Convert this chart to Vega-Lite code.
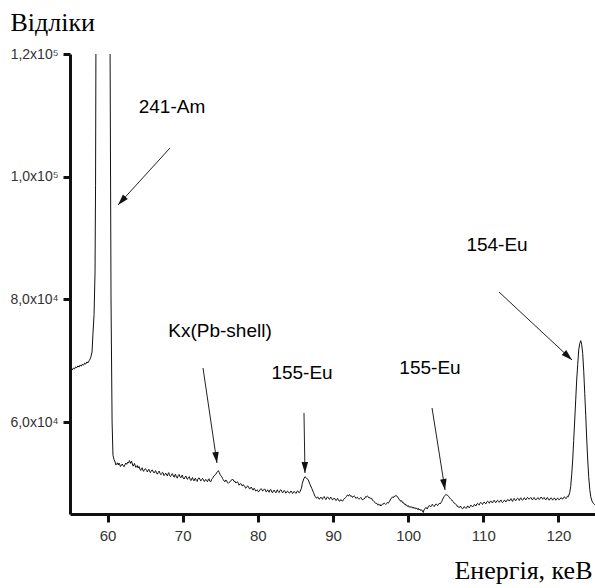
{
  "$schema": "https://vega.github.io/schema/vega-lite/v6.json",
  "width": 526,
  "height": 460,
  "autosize": {"type": "none"},
  "padding": {"left": 70, "top": 54, "right": 0, "bottom": 74},
  "background": "white",
  "config": {"view": {"stroke": null}},
  "datasets": {
    "spectrum": [
      {"E":55.0,"N":68480},{"E":55.15,"N":68700},{"E":55.3,"N":68500},{"E":55.45,"N":68800},{"E":55.6,"N":68650},{"E":55.75,"N":69000},{"E":55.9,"N":68850},{"E":56.05,"N":69150},{"E":56.2,"N":68950},{"E":56.35,"N":69300},{"E":56.5,"N":69100},{"E":56.65,"N":69450},{"E":56.8,"N":69250},{"E":56.95,"N":69600},{"E":57.1,"N":69450},{"E":57.25,"N":69800},{"E":57.4,"N":69650},{"E":57.55,"N":70000},{"E":57.7,"N":70300},{"E":57.8,"N":70700},
      {"E":57.93,"N":71400},{"E":58.06,"N":74500},{"E":58.2,"N":77500},{"E":58.33,"N":84300},{"E":58.4,"N":98600},{"E":58.46,"N":125000},{"E":58.9,"N":900000},{"E":59.4,"N":1500000},{"E":60.0,"N":900000},{"E":60.32,"N":125000},{"E":60.46,"N":79900},{"E":60.6,"N":60000},{"E":60.72,"N":54600},{"E":60.85,"N":53900},
      {"E":61.0,"N":53480},{"E":61.1,"N":53000},{"E":61.2,"N":53100},{"E":61.32,"N":53350},{"E":61.43,"N":52990},{"E":61.52,"N":53300},{"E":61.6,"N":53150},{"E":61.7,"N":52750},{"E":61.8,"N":52850},{"E":61.95,"N":53150},{"E":62.09,"N":52830},{"E":62.2,"N":52700},{"E":62.3,"N":53000},{"E":62.42,"N":53300},{"E":62.55,"N":53100},{"E":62.68,"N":53450},{"E":62.8,"N":53300},{"E":62.9,"N":53700},{"E":63.0,"N":53500},{"E":63.06,"N":53250},{"E":63.12,"N":53430},{"E":63.2,"N":53600},{"E":63.3,"N":53150},{"E":63.4,"N":52800},{"E":63.5,"N":53000},{"E":63.58,"N":53250},{"E":63.65,"N":52990},{"E":63.75,"N":52600},{"E":63.85,"N":52700},{"E":63.95,"N":52900},{"E":64.05,"N":52500},{"E":64.18,"N":52750},{"E":64.32,"N":52290},{"E":64.41,"N":52100},{"E":64.5,"N":52400},{"E":64.6,"N":52550},{"E":64.7,"N":52150},{"E":64.8,"N":51950},{"E":64.9,"N":52250},{"E":65.05,"N":52400},{"E":65.21,"N":52060},{"E":65.3,"N":51850},{"E":65.4,"N":52150},{"E":65.5,"N":52300},{"E":65.6,"N":51900},{"E":65.7,"N":51750},{"E":65.8,"N":52000},{"E":65.95,"N":52200},{"E":66.09,"N":51850},{"E":66.2,"N":51700},{"E":66.3,"N":51950},{"E":66.4,"N":52050},{"E":66.5,"N":51700},{"E":66.62,"N":51500},{"E":66.75,"N":51800},{"E":66.86,"N":52000},{"E":66.98,"N":51640},{"E":67.09,"N":51400},{"E":67.2,"N":51550},{"E":67.3,"N":51800},{"E":67.4,"N":51700},{"E":67.5,"N":51250},{"E":67.6,"N":51400},{"E":67.74,"N":51650},{"E":67.87,"N":51360},{"E":67.96,"N":51200},{"E":68.05,"N":51550},{"E":68.15,"N":51750},{"E":68.25,"N":51250},{"E":68.38,"N":51100},{"E":68.5,"N":51400},{"E":68.62,"N":51600},{"E":68.75,"N":51200},{"E":68.85,"N":51000},{"E":68.95,"N":51350},{"E":69.05,"N":51500},{"E":69.15,"N":51000},{"E":69.28,"N":50850},{"E":69.4,"N":51250},{"E":69.52,"N":51450},{"E":69.64,"N":51080},{"E":69.75,"N":50900},{"E":69.85,"N":51200},{"E":69.95,"N":51350},{"E":70.05,"N":50900},{"E":70.18,"N":50700},{"E":70.3,"N":51000},{"E":70.42,"N":51200},{"E":70.53,"N":50820},{"E":70.64,"N":50650},{"E":70.75,"N":50950},{"E":70.88,"N":51100},{"E":71.0,"N":50600},{"E":71.1,"N":50450},{"E":71.2,"N":50750},{"E":71.3,"N":50950},{"E":71.41,"N":50550},{"E":71.5,"N":50400},{"E":71.6,"N":50700},{"E":71.7,"N":50850},{"E":71.8,"N":50450},{"E":71.92,"N":50300},{"E":72.05,"N":50750},{"E":72.18,"N":50900},{"E":72.3,"N":50660},{"E":72.4,"N":50400},{"E":72.5,"N":50500},{"E":72.62,"N":50800},{"E":72.75,"N":50650},{"E":72.85,"N":50300},{"E":72.95,"N":50400},{"E":73.07,"N":50650},{"E":73.19,"N":50430},{"E":73.3,"N":50250},{"E":73.4,"N":50600},{"E":73.5,"N":50750},{"E":73.6,"N":50350},{"E":73.73,"N":50250},{"E":73.86,"N":50660},{"E":73.95,"N":50800},{"E":74.05,"N":51000},{"E":74.18,"N":51250},{"E":74.3,"N":51360},{"E":74.4,"N":51450},{"E":74.5,"N":51700},{"E":74.62,"N":51900},{"E":74.74,"N":52060},{"E":74.85,"N":51800},{"E":74.95,"N":51500},{"E":75.07,"N":51250},{"E":75.19,"N":51080},{"E":75.3,"N":50800},{"E":75.4,"N":50600},{"E":75.52,"N":50350},{"E":75.63,"N":50270},{"E":75.74,"N":50550},{"E":75.85,"N":50400},{"E":75.96,"N":50100},{"E":76.07,"N":50010},{"E":76.18,"N":50150},{"E":76.3,"N":50250},{"E":76.4,"N":50450},{"E":76.5,"N":50500},{"E":76.62,"N":50700},{"E":76.73,"N":50545},{"E":76.84,"N":50300},{"E":76.95,"N":50350},{"E":77.07,"N":50050},{"E":77.19,"N":50170},{"E":77.3,"N":50250},{"E":77.4,"N":50000},{"E":77.5,"N":49700},{"E":77.6,"N":49900},{"E":77.72,"N":49950},{"E":77.85,"N":49730},{"E":77.95,"N":49550},{"E":78.05,"N":49800},{"E":78.15,"N":49650},{"E":78.25,"N":49500},{"E":78.38,"N":49200},{"E":78.52,"N":49360},{"E":78.63,"N":49600},{"E":78.75,"N":49450},{"E":78.88,"N":49100},{"E":79.0,"N":49150},{"E":79.1,"N":49400},{"E":79.2,"N":49250},{"E":79.3,"N":48950},{"E":79.39,"N":48920},{"E":79.5,"N":49200},{"E":79.6,"N":49050},{"E":79.7,"N":48750},{"E":79.8,"N":48800},{"E":79.93,"N":48950},{"E":80.06,"N":48640},{"E":80.18,"N":48700},{"E":80.3,"N":48950},{"E":80.4,"N":49150},{"E":80.51,"N":49030},{"E":80.63,"N":48750},{"E":80.75,"N":48850},{"E":80.88,"N":49100},{"E":81.0,"N":48950},{"E":81.1,"N":48600},{"E":81.2,"N":48700},{"E":81.3,"N":48950},{"E":81.39,"N":48750},{"E":81.5,"N":48550},{"E":81.6,"N":48900},{"E":81.72,"N":49000},{"E":81.85,"N":48600},{"E":81.95,"N":48450},{"E":82.05,"N":48750},{"E":82.16,"N":48900},{"E":82.28,"N":48640},{"E":82.4,"N":48450},{"E":82.5,"N":48800},{"E":82.6,"N":48950},{"E":82.7,"N":48650},{"E":82.82,"N":48500},{"E":82.95,"N":48850},{"E":83.06,"N":48950},{"E":83.17,"N":48750},{"E":83.28,"N":48450},{"E":83.4,"N":48600},{"E":83.5,"N":48850},{"E":83.6,"N":48700},{"E":83.72,"N":48400},{"E":83.85,"N":48550},{"E":83.95,"N":48750},{"E":84.05,"N":48640},{"E":84.18,"N":48400},{"E":84.3,"N":48500},{"E":84.4,"N":48750},{"E":84.5,"N":48650},{"E":84.6,"N":48350},{"E":84.7,"N":48450},{"E":84.82,"N":48700},{"E":84.94,"N":48540},{"E":85.07,"N":48350},{"E":85.2,"N":48650},{"E":85.3,"N":48800},{"E":85.4,"N":48550},{"E":85.5,"N":48450},{"E":85.61,"N":48640},
      {"E":85.8,"N":49200},{"E":85.92,"N":50000},{"E":86.1,"N":50700},{"E":86.27,"N":51080},{"E":86.45,"N":50900},{"E":86.71,"N":50550},{"E":86.95,"N":49800},{"E":87.17,"N":49190},{"E":87.4,"N":48500},{"E":87.6,"N":47900},{"E":87.83,"N":47560},
      {"E":87.94,"N":47800},{"E":88.05,"N":47650},{"E":88.15,"N":47400},{"E":88.25,"N":47500},{"E":88.38,"N":47750},{"E":88.5,"N":47560},{"E":88.6,"N":47400},{"E":88.7,"N":47700},{"E":88.82,"N":47850},{"E":88.95,"N":47550},{"E":89.05,"N":47350},{"E":89.15,"N":47600},{"E":89.27,"N":47800},{"E":89.38,"N":47660},{"E":89.5,"N":47400},{"E":89.6,"N":47500},{"E":89.7,"N":47750},{"E":89.8,"N":47600},{"E":89.93,"N":47300},{"E":90.05,"N":47400},{"E":90.16,"N":47600},{"E":90.27,"N":47450},{"E":90.38,"N":47200},{"E":90.5,"N":47300},{"E":90.6,"N":47550},{"E":90.7,"N":47350},{"E":90.82,"N":47100},{"E":90.95,"N":47150},{"E":91.05,"N":47350},{"E":91.16,"N":47170},{"E":91.27,"N":47100},{"E":91.38,"N":47300},{"E":91.5,"N":47500},{"E":91.6,"N":47600},{"E":91.7,"N":47700},{"E":91.8,"N":47850},{"E":91.92,"N":48100},{"E":92.05,"N":47950},{"E":92.15,"N":48150},{"E":92.26,"N":48100},{"E":92.38,"N":47850},{"E":92.5,"N":47950},{"E":92.6,"N":47700},{"E":92.7,"N":47850},{"E":92.82,"N":47950},{"E":92.93,"N":47820},{"E":93.04,"N":47550},{"E":93.15,"N":47650},{"E":93.25,"N":47750},{"E":93.35,"N":47550},{"E":93.47,"N":47400},{"E":93.59,"N":47560},{"E":93.7,"N":47700},{"E":93.8,"N":47500},{"E":93.92,"N":47300},{"E":94.03,"N":47400},{"E":94.14,"N":47450},{"E":94.25,"N":47600},{"E":94.35,"N":47850},{"E":94.45,"N":47750},{"E":94.58,"N":47950},{"E":94.7,"N":47820},{"E":94.8,"N":47600},{"E":94.9,"N":47700},{"E":95.02,"N":47500},{"E":95.15,"N":47560},{"E":95.25,"N":47250},{"E":95.35,"N":47200},{"E":95.48,"N":47000},{"E":95.6,"N":46900},{"E":95.7,"N":46700},{"E":95.82,"N":46750},{"E":95.94,"N":46500},{"E":96.05,"N":46600},{"E":96.15,"N":46400},{"E":96.25,"N":46550},{"E":96.36,"N":46300},{"E":96.48,"N":46470},{"E":96.6,"N":46650},{"E":96.7,"N":46600},{"E":96.8,"N":46800},{"E":96.9,"N":46700},{"E":97.02,"N":46550},{"E":97.15,"N":46750},{"E":97.25,"N":46900},{"E":97.36,"N":46750},{"E":97.45,"N":46950},{"E":97.55,"N":47100},{"E":97.68,"N":47450},{"E":97.8,"N":47600},{"E":97.92,"N":47800},{"E":98.03,"N":47660},{"E":98.14,"N":47900},{"E":98.25,"N":47850},{"E":98.37,"N":48050},{"E":98.48,"N":47940},{"E":98.6,"N":47750},{"E":98.7,"N":47600},{"E":98.8,"N":47350},{"E":98.9,"N":47300},{"E":99.02,"N":47050},{"E":99.14,"N":47170},{"E":99.25,"N":46850},{"E":99.35,"N":46900},{"E":99.48,"N":46600},{"E":99.6,"N":46650},{"E":99.7,"N":46400},{"E":99.81,"N":46470},{"E":99.93,"N":46250},{"E":100.05,"N":46350},{"E":100.15,"N":46100},{"E":100.25,"N":46250},{"E":100.37,"N":46050},{"E":100.48,"N":46190},{"E":100.6,"N":45950},{"E":100.7,"N":46100},{"E":100.8,"N":45900},{"E":100.9,"N":46050},{"E":101.02,"N":45850},{"E":101.15,"N":45950},{"E":101.25,"N":45750},{"E":101.35,"N":45930},{"E":101.45,"N":45650},{"E":101.55,"N":45800},{"E":101.68,"N":45550},{"E":101.8,"N":45700},{"E":101.9,"N":45500},{"E":102.02,"N":45250},{"E":102.1,"N":45650},{"E":102.2,"N":45800},{"E":102.33,"N":46050},{"E":102.45,"N":46000},{"E":102.56,"N":45800},{"E":102.68,"N":46190},{"E":102.8,"N":46400},{"E":102.9,"N":46300},{"E":103.0,"N":46150},{"E":103.1,"N":46400},{"E":103.22,"N":46600},{"E":103.35,"N":46350},{"E":103.47,"N":46200},{"E":103.58,"N":46470},{"E":103.7,"N":46650},{"E":103.8,"N":46550},{"E":103.92,"N":46350},{"E":104.05,"N":46600},{"E":104.15,"N":46750},{"E":104.24,"N":46630},{"E":104.35,"N":46800},{"E":104.45,"N":47000},{"E":104.57,"N":47300},{"E":104.68,"N":47600},{"E":104.8,"N":47850},{"E":104.9,"N":48000},{"E":105.02,"N":48200},{"E":105.13,"N":48100},{"E":105.25,"N":48050},{"E":105.35,"N":47900},{"E":105.46,"N":47750},{"E":105.57,"N":47560},{"E":105.68,"N":47400},{"E":105.8,"N":47300},{"E":105.9,"N":47100},{"E":106.01,"N":47010},{"E":106.1,"N":46800},{"E":106.2,"N":46700},{"E":106.33,"N":46600},{"E":106.46,"N":46470},{"E":106.55,"N":46200},{"E":106.65,"N":46250},{"E":106.75,"N":46050},{"E":106.85,"N":46100},{"E":106.97,"N":46300},{"E":107.1,"N":46000},{"E":107.22,"N":45850},{"E":107.34,"N":45930},{"E":107.45,"N":46200},{"E":107.55,"N":46100},{"E":107.68,"N":45900},{"E":107.8,"N":46000},{"E":107.9,"N":46300},{"E":108.0,"N":46250},{"E":108.12,"N":46000},{"E":108.23,"N":46190},{"E":108.35,"N":46450},{"E":108.45,"N":46350},{"E":108.58,"N":46150},{"E":108.7,"N":46300},{"E":108.8,"N":46550},{"E":108.9,"N":46500},{"E":109.02,"N":46300},{"E":109.13,"N":46630},{"E":109.25,"N":46750},{"E":109.35,"N":46550},{"E":109.45,"N":46450},{"E":109.55,"N":46750},{"E":109.68,"N":46900},{"E":109.8,"N":46700},{"E":109.9,"N":46550},{"E":110.0,"N":46840},{"E":110.12,"N":46950},{"E":110.25,"N":46750},{"E":110.35,"N":46650},{"E":110.45,"N":46950},{"E":110.58,"N":47100},{"E":110.7,"N":46900},{"E":110.8,"N":46750},{"E":110.9,"N":47010},{"E":111.0,"N":47150},{"E":111.1,"N":46950},{"E":111.22,"N":46800},{"E":111.35,"N":47100},{"E":111.45,"N":47250},{"E":111.55,"N":47000},{"E":111.68,"N":46850},{"E":111.79,"N":47120},{"E":111.9,"N":47250},{"E":112.0,"N":47050},{"E":112.12,"N":46900},{"E":112.25,"N":47150},{"E":112.35,"N":47300},{"E":112.45,"N":47000},{"E":112.56,"N":46850},{"E":112.67,"N":47010},{"E":112.78,"N":47250},{"E":112.9,"N":47200},{"E":113.0,"N":46950},{"E":113.1,"N":47100},{"E":113.22,"N":47350},{"E":113.35,"N":47300},{"E":113.45,"N":47100},{"E":113.56,"N":47280},{"E":113.68,"N":47500},{"E":113.8,"N":47200},{"E":113.9,"N":47050},{"E":114.0,"N":47400},{"E":114.1,"N":47550},{"E":114.2,"N":47300},{"E":114.32,"N":47150},{"E":114.45,"N":47450},{"E":114.58,"N":47600},{"E":114.7,"N":47350},{"E":114.8,"N":47200},{"E":114.9,"N":47500},{"E":115.0,"N":47650},{"E":115.1,"N":47350},{"E":115.22,"N":47250},{"E":115.33,"N":47400},{"E":115.44,"N":47650},{"E":115.55,"N":47550},{"E":115.65,"N":47300},{"E":115.75,"N":47450},{"E":115.88,"N":47700},{"E":116.0,"N":47600},{"E":116.1,"N":47400},{"E":116.22,"N":47560},{"E":116.33,"N":47700},{"E":116.45,"N":47450},{"E":116.55,"N":47300},{"E":116.65,"N":47550},{"E":116.78,"N":47700},{"E":116.9,"N":47400},{"E":117.0,"N":47300},{"E":117.11,"N":47450},{"E":117.23,"N":47650},{"E":117.35,"N":47600},{"E":117.45,"N":47350},{"E":117.55,"N":47500},{"E":117.68,"N":47750},{"E":117.8,"N":47650},{"E":117.9,"N":47400},{"E":117.99,"N":47560},{"E":118.1,"N":47700},{"E":118.2,"N":47450},{"E":118.32,"N":47300},{"E":118.45,"N":47600},{"E":118.55,"N":47700},{"E":118.65,"N":47400},{"E":118.77,"N":47250},{"E":118.88,"N":47450},{"E":119.0,"N":47650},{"E":119.1,"N":47550},{"E":119.2,"N":47300},{"E":119.3,"N":47350},{"E":119.42,"N":47600},{"E":119.55,"N":47500},{"E":119.66,"N":47250},{"E":119.77,"N":47400},{"E":119.88,"N":47600},{"E":120.0,"N":47500},{"E":120.1,"N":47300},{"E":120.2,"N":47400},{"E":120.32,"N":47650},{"E":120.45,"N":47600},{"E":120.55,"N":47400},{"E":120.65,"N":47560},{"E":120.78,"N":47800},{"E":120.9,"N":47700},{"E":121.0,"N":47500},{"E":121.1,"N":47650},{"E":121.2,"N":47900},{"E":121.32,"N":47820},
      {"E":121.5,"N":48500},{"E":121.63,"N":49450},{"E":121.77,"N":51500},{"E":121.9,"N":53810},{"E":122.03,"N":57000},{"E":122.17,"N":60330},{"E":122.3,"N":63600},{"E":122.43,"N":66850},{"E":122.57,"N":69400},{"E":122.7,"N":71740},{"E":122.84,"N":72800},{"E":122.97,"N":73260},{"E":123.1,"N":72600},{"E":123.23,"N":71200},{"E":123.37,"N":68200},{"E":123.5,"N":64680},{"E":123.64,"N":61000},{"E":123.77,"N":57070},{"E":123.9,"N":53800},{"E":124.03,"N":51080},{"E":124.17,"N":49000},{"E":124.3,"N":47820},{"E":124.47,"N":47100},{"E":124.64,"N":46750},{"E":124.8,"N":46550},{"E":125.0,"N":46470}
    ],
    "labels": [
      {"text": "241-Am", "E": 68.57, "N": 110381},
      {"text": "Kx(Pb-shell)", "E": 74.96, "N": 73861},
      {"text": "155-Eu", "E": 85.88, "N": 67012},
      {"text": "155-Eu", "E": 102.91, "N": 67827},
      {"text": "154-Eu", "E": 111.83, "N": 87881}
    ],
    "arrows": [
      {"id": "Am", "E": 68.31, "N": 104674, "E2": 61.39, "N2": 95381},
      {"id": "Kx", "E": 72.70, "N": 68805, "E2": 74.56, "N2": 53317},
      {"id": "Eu155a", "E": 86.14, "N": 61469, "E2": 86.27, "N2": 51686},
      {"id": "Eu155b", "E": 103.18, "N": 62284, "E2": 104.91, "N2": 48915},
      {"id": "Eu154", "E": 112.09, "N": 81196, "E2": 121.81, "N2": 70110}
    ],
    "heads": [
      {"id": "Am", "E": 61.39, "N": 95381},
      {"id": "Kx", "E": 74.56, "N": 53317},
      {"id": "Eu155a", "E": 86.27, "N": 51686},
      {"id": "Eu155b", "E": 104.91, "N": 48915},
      {"id": "Eu154", "E": 121.81, "N": 70110}
    ],
    "xticks": [{"E": 60}, {"E": 65}, {"E": 70}, {"E": 75}, {"E": 80}, {"E": 85}, {"E": 90}, {"E": 95}, {"E": 100}, {"E": 105}, {"E": 110}, {"E": 115}, {"E": 120}],
    "yticks": [{"N": 50000}, {"N": 60000}, {"N": 70000}, {"N": 80000}, {"N": 90000}, {"N": 100000}, {"N": 110000}, {"N": 120000}]
  },
  "encoding": {
    "x": {"field": "E", "type": "quantitative",
      "scale": {"domain": [55, 125], "nice": false, "zero": false},
      "axis": {"values": [60, 70, 80, 90, 100, 110, 120], "grid": false,
        "ticks": true, "tickSize": 8, "tickWidth": 3, "tickColor": "#111",
        "domain": true, "domainWidth": 3, "domainColor": "#111",
        "labelFont": "Liberation Sans", "labelFontSize": 15, "labelColor": "#333", "labelPadding": 6,
        "title": "Енергія, кеВ", "titleFont": "Liberation Serif", "titleFontSize": 26, "titleFontWeight": "normal",
        "titleColor": "#000", "titleAlign": "right", "titleAnchor": null, "titleX": 522, "titleY": 64, "titleBaseline": "alphabetic"}},
    "y": {"field": "N", "type": "quantitative",
      "scale": {"domain": [45000, 120000], "nice": false, "zero": false},
      "axis": {"values": [60000, 80000, 100000, 120000], "grid": false,
        "ticks": true, "tickSize": 7, "tickWidth": 3, "tickColor": "#111",
        "domain": true, "domainWidth": 3, "domainColor": "#111",
        "labelFont": "Liberation Sans", "labelFontSize": 14, "labelColor": "#333", "labelPadding": 5,
        "labelExpr": "datum.value == 120000 ? '1,2x10⁵' : datum.value == 100000 ? '1,0x10⁵' : datum.value == 80000 ? '8,0x10⁴' : '6,0x10⁴'",
        "title": "Відліки", "titleFont": "Liberation Serif", "titleFontSize": 26, "titleFontWeight": "normal",
        "titleColor": "#000", "titleAngle": 0, "titleAlign": "left", "titleAnchor": null, "titleX": -60, "titleY": -24, "titleBaseline": "alphabetic"}}
  },
  "layer": [
    {
      "data": {"name": "spectrum"},
      "mark": {"type": "line", "color": "#111111", "strokeWidth": 1, "clip": true, "interpolate": "linear"}
    },
    {
      "data": {"name": "xticks"},
      "transform": [{"filter": "datum.E % 10 === 0"}],
      "mark": {"type": "rule", "color": "#111", "strokeWidth": 3, "y2Offset": 8},
      "encoding": {"y": {"datum": 45000}, "y2": {"datum": 45000}}
    },
    {
      "data": {"name": "xticks"},
      "transform": [{"filter": "datum.E % 10 !== 0"}],
      "mark": {"type": "rule", "color": "#111", "strokeWidth": 3, "y2Offset": 4},
      "encoding": {"y": {"datum": 45000}, "y2": {"datum": 45000}}
    },
    {
      "data": {"name": "yticks"},
      "transform": [{"filter": "datum.N % 20000 === 0"}],
      "mark": {"type": "rule", "color": "#111", "strokeWidth": 3, "x2Offset": -7},
      "encoding": {"x": {"datum": 55}, "x2": {"datum": 55}}
    },
    {
      "data": {"name": "yticks"},
      "transform": [{"filter": "datum.N % 20000 !== 0"}],
      "mark": {"type": "rule", "color": "#111", "strokeWidth": 3, "x2Offset": -4},
      "encoding": {"x": {"datum": 55}, "x2": {"datum": 55}}
    },
    {
      "data": {"values": [{}]},
      "mark": {"type": "rule", "color": "#111", "strokeWidth": 3},
      "encoding": {"x": {"datum": 55}, "x2": {"datum": 125}, "y": {"datum": 45000}}
    },
    {
      "data": {"values": [{}]},
      "mark": {"type": "rule", "color": "#111", "strokeWidth": 3},
      "encoding": {"x": {"datum": 55}, "y": {"datum": 45000}, "y2": {"datum": 120000}}
    },
    {
      "data": {"name": "arrows"},
      "mark": {"type": "rule", "color": "#222", "strokeWidth": 1},
      "encoding": {"x2": {"field": "E2"}, "y2": {"field": "N2"}}
    },
    {
      "data": {"name": "labels"},
      "mark": {"type": "text", "font": "Liberation Sans", "fontSize": 19, "color": "#000", "align": "center", "baseline": "alphabetic"},
      "encoding": {"text": {"field": "text"}}
    },
    {
      "data": {"name": "heads"},
      "transform": [{"filter": "datum.id == 'Am'"}],
      "mark": {"type": "point", "shape": "M0,0L-0.3,-1L0.3,-1Z", "size": 484, "filled": true, "color": "#111", "opacity": 1, "angle": 42}
    },
    {
      "data": {"name": "heads"},
      "transform": [{"filter": "datum.id == 'Kx'"}],
      "mark": {"type": "point", "shape": "M0,0L-0.3,-1L0.3,-1Z", "size": 484, "filled": true, "color": "#111", "opacity": 1, "angle": -8}
    },
    {
      "data": {"name": "heads"},
      "transform": [{"filter": "datum.id == 'Eu155a'"}],
      "mark": {"type": "point", "shape": "M0,0L-0.3,-1L0.3,-1Z", "size": 484, "filled": true, "color": "#111", "opacity": 1, "angle": -1}
    },
    {
      "data": {"name": "heads"},
      "transform": [{"filter": "datum.id == 'Eu155b'"}],
      "mark": {"type": "point", "shape": "M0,0L-0.3,-1L0.3,-1Z", "size": 484, "filled": true, "color": "#111", "opacity": 1, "angle": -9}
    },
    {
      "data": {"name": "heads"},
      "transform": [{"filter": "datum.id == 'Eu154'"}],
      "mark": {"type": "point", "shape": "M0,0L-0.3,-1L0.3,-1Z", "size": 484, "filled": true, "color": "#111", "opacity": 1, "angle": -47}
    }
  ]
}
